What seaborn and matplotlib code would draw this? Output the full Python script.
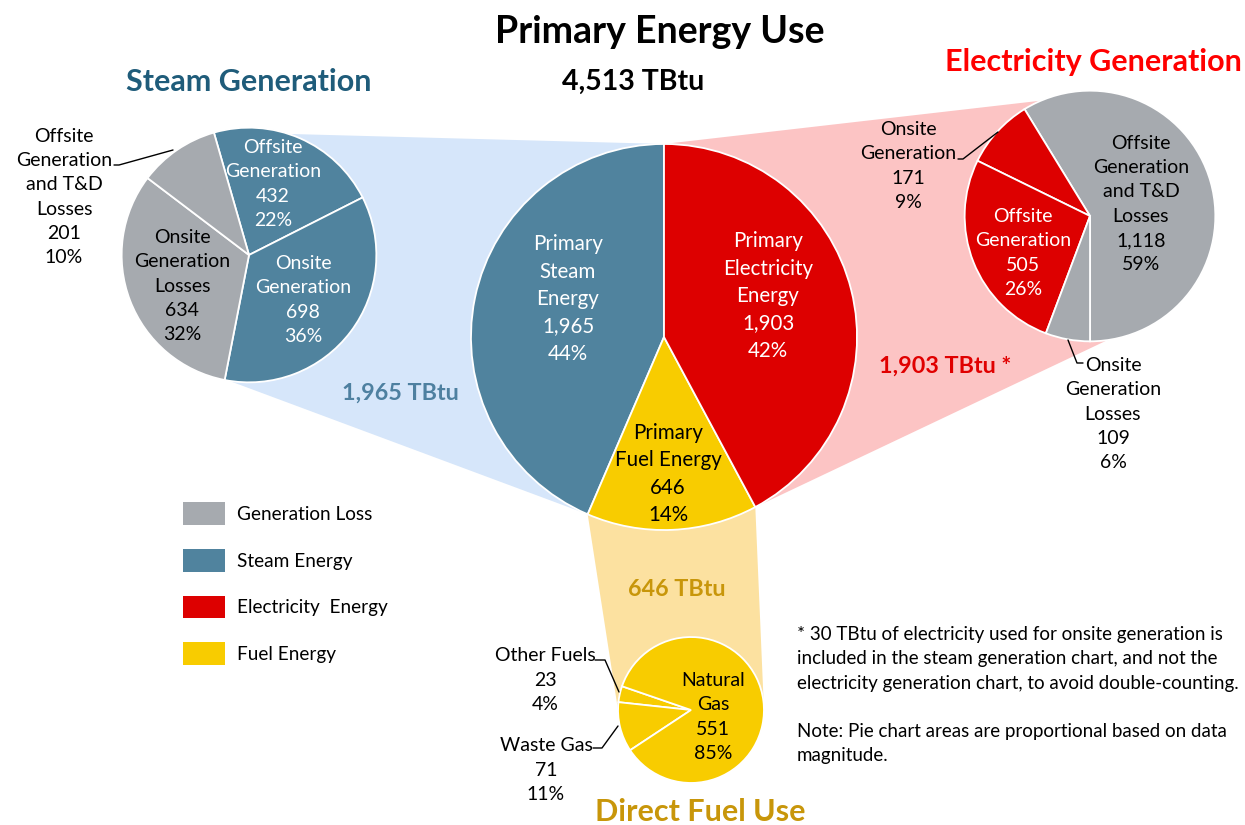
import numpy as np
import matplotlib.pyplot as plt
import seaborn as sns
from matplotlib.patches import Patch

# ---- data ----
total_energy = 4513

main_labels = ["Primary\nSteam\nEnergy", "Primary\nFuel Energy", "Primary\nElectricity\nEnergy"]
main_values = [1965, 646, 1903]
main_pcts = [44, 14, 42]

steam_labels = ["Offsite\nGeneration", "Onsite\nGeneration", "Onsite\nGeneration\nLosses",
                "Offsite\nGeneration\nand T&D\nLosses"]
steam_values = [432, 698, 634, 201]
steam_pcts = [22, 36, 32, 10]

elec_labels = ["Offsite\nGeneration\nand T&D\nLosses", "Onsite\nGeneration", "Offsite\nGeneration",
               "Onsite\nGeneration\nLosses"]
elec_values = [1118, 171, 505, 109]
elec_pcts = [59, 9, 26, 6]

fuel_labels = ["Other Fuels", "Waste Gas", "Natural\nGas"]
fuel_values = [23, 71, 551]
fuel_pcts = [4, 11, 85]

legend_labels = ["Generation Loss", "Steam Energy", "Electricity  Energy", "Fuel Energy"]

# ---- colours ----
BLUE, GRAY, RED, YELLOW = "#50839E", "#A6AAAF", "#DD0000", "#F8CC00"

sns.set_theme(style="white")
plt.rcParams['font.family'] = ['Lato', 'DejaVu Sans']
plt.rcParams['text.color'] = 'black'

W, H = 1245, 825
fig = plt.figure(figsize=(12.45, 8.25), dpi=100)
ax = fig.add_axes([0, 0, 1, 1])


def yy(y):
    return H - y


def rim(c, r, deg):
    return (c[0] + r * np.cos(np.radians(deg)), c[1] + r * np.sin(np.radians(deg)))


R_MAIN = 193


def radius(vals):
    # pie areas proportional to the data
    return R_MAIN * np.sqrt(sum(vals) / total_energy)


def bounds(vals, start, ccw=True):
    frac = np.cumsum([0] + list(vals)) / sum(vals) * 360
    return start + frac if ccw else start - frac


main_c, steam_c, elec_c, fuel_c = (664, yy(337)), (249, yy(255)), (1090, yy(216)), (691, yy(710))
r_main = radius(main_values)
r_steam = radius(steam_values)
r_elec = radius(elec_values)
r_fuel = radius(fuel_values)

main_b = bounds(main_values, 90)
steam_b = bounds(steam_values, 106, ccw=False)

# ---- connecting fans ----
blue_fan = [rim(steam_c, r_steam, steam_b[0] - 1), rim(main_c, r_main, 90),
            rim(main_c, r_main, main_b[1]), rim(steam_c, r_steam, -99)]
pink_fan = [rim(main_c, r_main, 90), rim(elec_c, r_elec, 113),
            rim(elec_c, r_elec, -82), rim(main_c, r_main, main_b[2])]
yellow_fan = [rim(main_c, r_main, main_b[1]), rim(main_c, r_main, main_b[2]),
              rim(fuel_c, r_fuel, 0), rim(fuel_c, r_fuel, 180)]
for pts, col in [(blue_fan, "#D6E6FA"), (pink_fan, "#FCC4C4"), (yellow_fan, "#FCE1A0")]:
    xs, ys = zip(*pts)
    ax.fill(xs, ys, color=col, lw=0, zorder=0)

wp = dict(edgecolor="white", linewidth=1.3)
ax.pie(main_values, colors=[BLUE, YELLOW, RED], center=main_c, radius=r_main,
       startangle=90, counterclock=True, wedgeprops=wp)
ax.pie(steam_values, colors=[BLUE, BLUE, GRAY, GRAY], center=steam_c, radius=r_steam,
       startangle=106, counterclock=False, wedgeprops=wp)
ax.pie(elec_values, colors=[GRAY, RED, RED, GRAY], center=elec_c, radius=r_elec,
       startangle=-90, counterclock=True, wedgeprops=wp)
ax.pie(fuel_values, colors=[YELLOW] * 3, center=fuel_c, radius=r_fuel,
       startangle=161, counterclock=True, wedgeprops=wp)

ax.set_xlim(0, W)
ax.set_ylim(0, H)
ax.set_aspect("equal")
ax.axis("off")


def slice_text(x, y, label, value, pct, color="black", size=14, ls=1.52):
    ax.text(x, yy(y), f"{label}\n{value:,}\n{pct}%", ha="center", va="center",
            color=color, fontsize=size, linespacing=ls, zorder=5)


# main pie labels
main_pos = [(568, 299), (668, 474), (768, 296)]
main_tc = ["white", "black", "white"]
for (x, y), lab, v, p, tc in zip(main_pos, main_labels, main_values, main_pcts, main_tc):
    slice_text(x, y, lab, v, p, color=tc, size=14.8, ls=1.46)

steam_pos = [(273, 184), (303, 300), (182, 286), (64, 197)]
steam_tc = ["white", "white", "black", "black"]
for (x, y), lab, v, p, tc in zip(steam_pos, steam_labels, steam_values, steam_pcts, steam_tc):
    slice_text(x, y, lab, v, p, color=tc)

elec_pos = [(1141, 204), (908, 166), (1023, 253), (1113, 414)]
elec_tc = ["black", "black", "white", "black"]
for (x, y), lab, v, p, tc in zip(elec_pos, elec_labels, elec_values, elec_pcts, elec_tc):
    slice_text(x, y, lab, v, p, color=tc)

fuel_pos = [(545, 680), (546, 770), (713, 717)]
for (x, y), lab, v, p in zip(fuel_pos, fuel_labels, fuel_values, fuel_pcts):
    slice_text(x, y, lab, v, p)

# leader lines
leaders = [
    [(114, 165), (119, 165), (173, 150)],
    [(958, 159), (963, 159), (998, 132)],
    [(1068, 340), (1077, 363), (1083, 363)],
    [(595, 660), (605, 660), (619, 692)],
    [(593, 748), (602, 748), (618, 726)],
]
for seg in leaders:
    xs, ys = zip(*seg)
    ax.plot(xs, [yy(v) for v in ys], color="black", lw=1, zorder=4)

# titles
ax.text(660, yy(32), "Primary Energy Use", ha="center", va="center", fontsize=27, fontweight="bold")
ax.text(633, yy(82), "4,513 TBtu", ha="center", va="center", fontsize=20.5, fontweight="bold")
ax.text(249, yy(82), "Steam Generation", ha="center", va="center", fontsize=22,
        fontweight="bold", color="#1F5C7A")
ax.text(1093, yy(62), "Electricity Generation", ha="center", va="center", fontsize=22,
        fontweight="bold", color="#FF0000")
ax.text(700, yy(812), "Direct Fuel Use", ha="center", va="center", fontsize=22,
        fontweight="bold", color="#C8960A")
ax.text(400, yy(393), "1,965 TBtu", ha="center", va="center", fontsize=16.8,
        fontweight="bold", color="#4E80A0")
ax.text(945, yy(366), "1,903 TBtu *", ha="center", va="center", fontsize=16.8,
        fontweight="bold", color="#E00000")
ax.text(677, yy(590), "646 TBtu", ha="center", va="center", fontsize=16.8,
        fontweight="bold", color="#C8960A")

note = ("* 30 TBtu of electricity used for onsite generation is\n"
        "included in the steam generation chart, and not the\n"
        "electricity generation chart, to avoid double-counting.\n\n"
        "Note: Pie chart areas are proportional based on data\n"
        "magnitude.")
ax.text(797, yy(626), note, ha="left", va="top", fontsize=13.5, linespacing=1.52)

# legend
handles = [Patch(facecolor=c, edgecolor="none") for c in [GRAY, BLUE, RED, YELLOW]]
ax.legend(handles, legend_labels, loc="upper left", bbox_to_anchor=(183 / W, 1 - 502 / H),
          frameon=False, fontsize=13.7, handlelength=2.2, handleheight=1.47,
          labelspacing=1.26, handletextpad=0.63, borderpad=0, borderaxespad=0)

fig.savefig("out.png", dpi=100)
